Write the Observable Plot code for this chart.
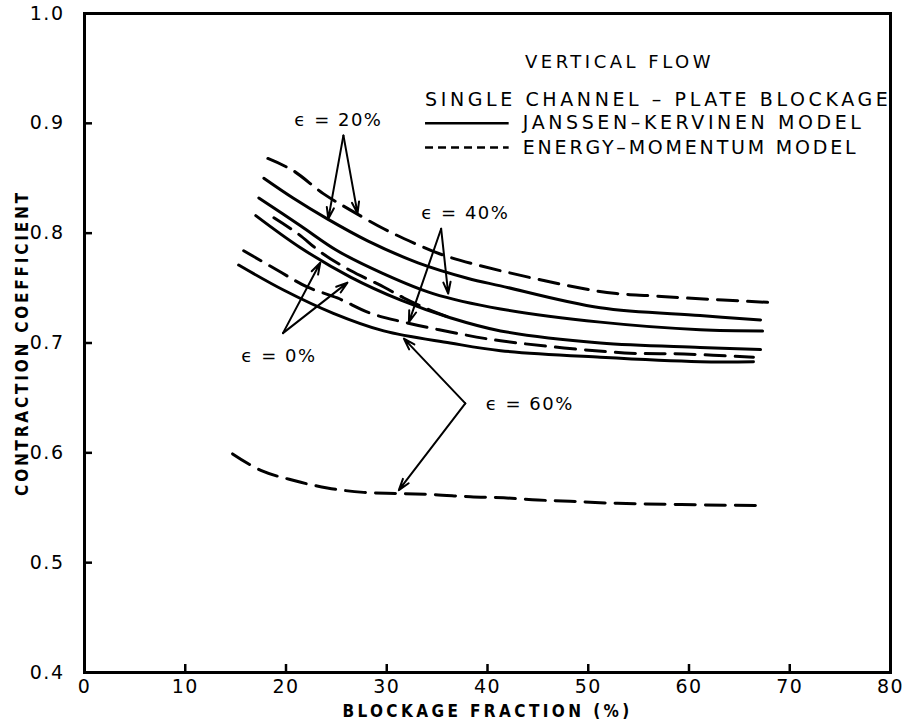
<!DOCTYPE html>
<html>
<head>
<meta charset="utf-8">
<script src="https://cdn.jsdelivr.net/npm/d3@7"></script>
<script src="https://cdn.jsdelivr.net/npm/@observablehq/plot@0.6"></script>
<style>
  html, body { margin: 0; padding: 0; background: #fff; }
  #chart svg { display: block; }
</style>
</head>
<body>
<div id="chart"></div>
<script>
// Axis ticks
const xTicks = [0, 10, 20, 30, 40, 50, 60, 70, 80];
const yTicks = [0.4, 0.5, 0.6, 0.7, 0.8, 0.9, 1.0];

// Janssen-Kervinen model (solid) : [blockage %, contraction coefficient]
const jk20 = [[17.8,0.850],[20.7,0.832],[24.1,0.813],[28.1,0.793],[33.1,0.773],[38.0,0.759],[41.3,0.752],[51.2,0.732],[61.1,0.725],[67.1,0.721]];
const jk40 = [[17.3,0.832],[21.4,0.807],[25.1,0.784],[29.7,0.763],[34.6,0.745],[41.3,0.731],[51.2,0.719],[61.1,0.712],[67.3,0.711]];
const jk0  = [[17.0,0.816],[21.4,0.787],[26.4,0.760],[31.4,0.739],[36.3,0.723],[41.3,0.711],[51.2,0.700],[61.1,0.696],[67.1,0.694]];
const jk60 = [[15.3,0.771],[19.8,0.748],[24.7,0.727],[29.7,0.711],[36.3,0.700],[41.3,0.693],[51.2,0.687],[61.1,0.683],[66.4,0.683]];

// Energy-momentum model (dashed)
const em20 = [[18.2,0.868],[20.7,0.857],[23.7,0.836],[26.4,0.821],[29.7,0.804],[32.7,0.791],[35.3,0.781],[39.0,0.771],[49.2,0.750],[52.8,0.745],[56.2,0.743],[59.7,0.741],[67.8,0.737]];
const em0  = [[18.8,0.814],[21.1,0.800],[23.7,0.781],[26.4,0.766],[29.7,0.751],[31.7,0.741],[34.3,0.730],[36.3,0.723]];
const em40 = [[15.8,0.784],[19.2,0.766],[22.1,0.751],[25.1,0.741],[28.4,0.727],[31.7,0.719],[36.3,0.710],[41.3,0.702],[53.6,0.691],[59.5,0.690],[66.4,0.687]];
const em60 = [[14.7,0.599],[17.5,0.584],[20.7,0.575],[24.1,0.568],[27.7,0.564],[31.1,0.563],[34.6,0.562],[38.3,0.560],[41.6,0.559],[45.0,0.557],[48.2,0.556],[52.9,0.554],[66.6,0.552]];

// Annotation labels and pointer lines (vertex -> curve)
const annLabels = [
  {text: "ϵ = 20%", x: 25.2, y: 0.903},
  {text: "ϵ = 40%", x: 37.8, y: 0.818},
  {text: "ϵ = 0%",  x: 19.3, y: 0.688},
  {text: "ϵ = 60%", x: 44.2, y: 0.644}
];
const annArrows = [
  {x1: 25.7, y1: 0.889, x2: 24.2, y2: 0.813},
  {x1: 25.7, y1: 0.889, x2: 27.1, y2: 0.818},
  {x1: 35.4, y1: 0.804, x2: 32.2, y2: 0.719},
  {x1: 35.4, y1: 0.804, x2: 36.1, y2: 0.745},
  {x1: 19.7, y1: 0.709, x2: 23.4, y2: 0.773},
  {x1: 19.7, y1: 0.709, x2: 26.1, y2: 0.755},
  {x1: 37.8, y1: 0.645, x2: 31.7, y2: 0.704},
  {x1: 37.8, y1: 0.645, x2: 31.2, y2: 0.566}
];

// Legend block
const legendTitle = [{text: "VERTICAL FLOW", x: 53.1, y: 0.956}];
const legendHeader = [{text: "SINGLE CHANNEL – PLATE BLOCKAGE", x: 33.8, y: 0.921}];
const legendEntries = [
  {text: "JANSSEN–KERVINEN MODEL", x1: 33.8, x2: 42.1, xt: 43.5, y: 0.900, dash: null},
  {text: "ENERGY–MOMENTUM MODEL", x1: 33.8, x2: 42.1, xt: 43.5, y: 0.878, dash: "8,5"}
];

// letter spacing per text (the reference uses wide stencil lettering)
const spacing = {
  "VERTICAL FLOW": "3.5px",
  "SINGLE CHANNEL – PLATE BLOCKAGE": "3.6px",
  "JANSSEN–KERVINEN MODEL": "3.6px",
  "ENERGY–MOMENTUM MODEL": "2.8px",
  "BLOCKAGE FRACTION (%)": "3.4px",
  "CONTRACTION COEFFICIENT": "2.8px"
};

const W = 912, H = 727;
const mL = 84, mR = 22, mT = 13, mB = 55;
const fw = W - mL - mR, fh = H - mT - mB;
const font = "'DejaVu Sans', 'Liberation Sans', sans-serif";
const condensed = "'DejaVu Sans Condensed', 'DejaVu Sans', sans-serif";
const curveStroke = 3;
const dashes = "20,10";

const solid = [jk20, jk40, jk0, jk60];
const dashed = [em20, em0, em40, em60];

const chart = Plot.plot({
  width: W,
  height: H,
  marginLeft: mL,
  marginRight: mR,
  marginTop: mT,
  marginBottom: mB,
  style: {fontFamily: font, fontSize: "18px", color: "#000", background: "#fff", letterSpacing: "1.5px"},
  x: {domain: [0, 80]},
  y: {domain: [0.4, 1.0]},
  marks: [
    // inward ticks
    Plot.tickX(xTicks, {x: d => d, insetTop: fh - 8, stroke: "#000", strokeWidth: 2.5}),
    Plot.tickY(yTicks, {y: d => d, insetRight: fw - 8, stroke: "#000", strokeWidth: 2.5}),
    // tick labels
    Plot.axisX({ticks: xTicks, tickSize: 0, tickPadding: 7, label: null, fontSize: 19, tickFormat: d => String(d)}),
    Plot.axisY({ticks: yTicks, tickSize: 0, tickPadding: 20, label: null, fontSize: 19, tickFormat: d3.format(".1f")}),
    // axis titles
    Plot.text(["BLOCKAGE FRACTION (%)"], {frameAnchor: "bottom", dy: 44, text: d => d, fontSize: 17, fontWeight: "bold", fontFamily: condensed}),
    Plot.text(["CONTRACTION COEFFICIENT"], {frameAnchor: "left", dx: -62, rotate: -90, textAnchor: "middle", text: d => d, fontSize: 17, fontWeight: "bold", fontFamily: condensed}),
    // curves
    ...solid.map(s => Plot.line(s, {x: d => d[0], y: d => d[1], stroke: "#000", strokeWidth: curveStroke, curve: "catmull-rom"})),
    ...dashed.map(s => Plot.line(s, {x: d => d[0], y: d => d[1], stroke: "#000", strokeWidth: curveStroke, strokeDasharray: dashes, curve: "catmull-rom"})),
    // annotations
    Plot.arrow(annArrows, {x1: "x1", y1: "y1", x2: "x2", y2: "y2", stroke: "#000", strokeWidth: 2, headLength: 9, headAngle: 35}),
    Plot.text(annLabels, {x: "x", y: "y", text: "text", fontSize: 18, textAnchor: "middle"}),
    // legend
    Plot.text(legendTitle, {x: "x", y: "y", text: "text", fontSize: 18, textAnchor: "middle"}),
    Plot.text(legendHeader, {x: "x", y: "y", text: "text", fontSize: 19, textAnchor: "start"}),
    Plot.link(legendEntries.filter(d => !d.dash), {x1: "x1", x2: "x2", y1: "y", y2: "y", stroke: "#000", strokeWidth: 2.5}),
    Plot.link(legendEntries.filter(d => d.dash), {x1: "x1", x2: "x2", y1: "y", y2: "y", stroke: "#000", strokeWidth: 2.5, strokeDasharray: "8,5"}),
    Plot.text(legendEntries, {x: "xt", y: "y", text: "text", fontSize: 19, textAnchor: "start"}),
    // frame
    Plot.frame({stroke: "#000", strokeWidth: 3})
  ]
});

d3.select(chart).selectAll("text").each(function() {
  const s = spacing[this.textContent];
  if (s) this.style.letterSpacing = s;
});

document.getElementById("chart").appendChild(chart);
</script>
</body>
</html>
